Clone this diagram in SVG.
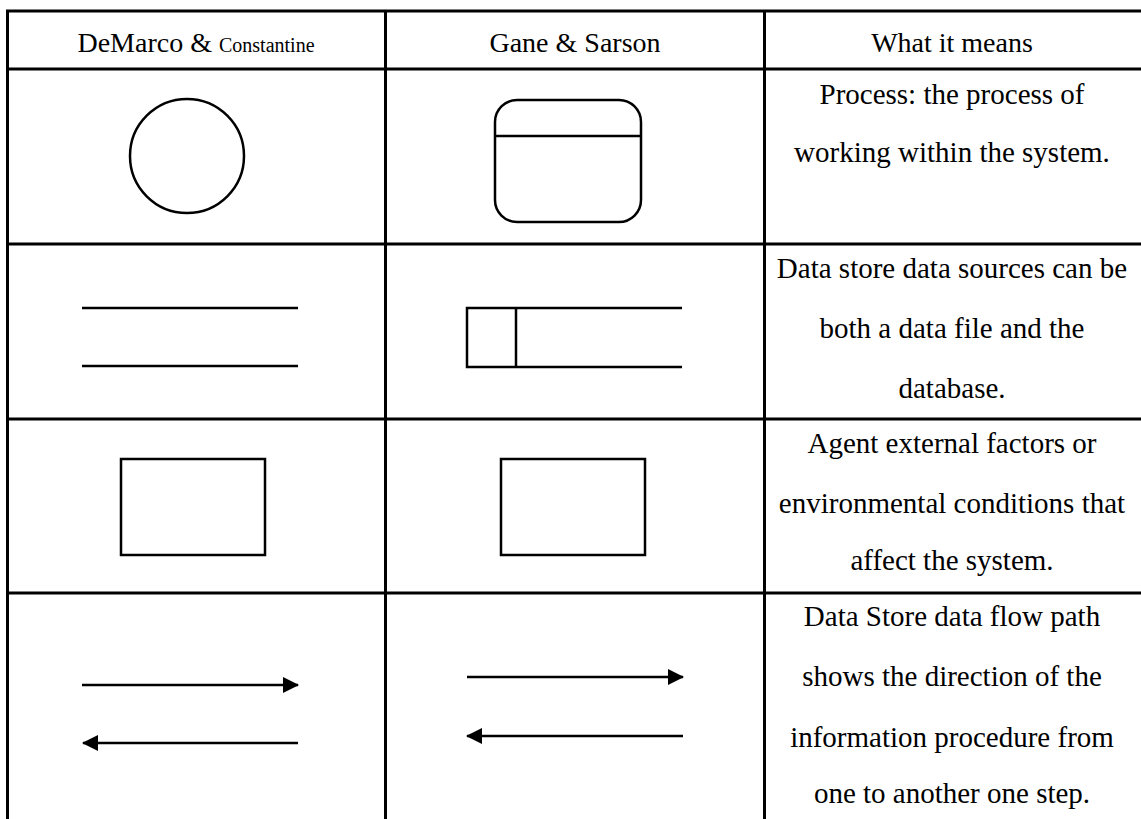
<svg xmlns="http://www.w3.org/2000/svg" width="1141" height="819" viewBox="0 0 1141 819">
  <style>
    .grid { stroke: #000; stroke-width: 3; fill: none; }
    .shape { stroke: #000; stroke-width: 2.5; fill: none; }
    .txt { font-family: "Liberation Serif", "Times New Roman", serif; font-size: 28px; fill: #000; text-anchor: middle; }
    .body { font-size: 29px; }
    .small { font-size: 20px; }
  </style>
  <defs>
    <marker id="head" viewBox="0 0 16 16" refX="15" refY="8" markerWidth="16" markerHeight="16" markerUnits="userSpaceOnUse" orient="auto">
      <path d="M0,0 L16,8 L0,16 Z" fill="#000"/>
    </marker>
  </defs>
  <rect width="1141" height="819" fill="#fff"/>

  <!-- table grid -->
  <g id="table-grid" class="grid">
    <line x1="6" y1="11" x2="1141" y2="11"/>
    <line x1="6" y1="69" x2="1141" y2="69"/>
    <line x1="6" y1="244" x2="1141" y2="244"/>
    <line x1="6" y1="419" x2="1141" y2="419"/>
    <line x1="6" y1="593" x2="1141" y2="593"/>
    <line x1="7.5" y1="10" x2="7.5" y2="819"/>
    <line x1="385.5" y1="10" x2="385.5" y2="819"/>
    <line x1="764.5" y1="10" x2="764.5" y2="819"/>
  </g>

  <!-- column headings -->
  <g id="headings">
    <text class="txt" x="196" y="52">DeMarco &amp; <tspan class="small">Constantine</tspan></text>
    <text class="txt" x="575" y="52">Gane &amp; Sarson</text>
    <text class="txt" x="952" y="52">What it means</text>
  </g>

  <!-- process row -->
  <g id="process-dm">
    <circle class="shape" cx="187" cy="156" r="57"/>
  </g>
  <g id="process-gs">
    <rect class="shape" x="495" y="100" width="146" height="122" rx="22" ry="22"/>
    <line class="shape" x1="495" y1="136" x2="641" y2="136"/>
  </g>
  <g id="process-desc">
    <text class="txt body" x="952" y="104">Process: the process of</text>
    <text class="txt body" x="952" y="162">working within the system.</text>
  </g>

  <!-- data store row -->
  <g id="store-dm" class="shape">
    <line x1="82" y1="308" x2="298" y2="308"/>
    <line x1="82" y1="366" x2="298" y2="366"/>
  </g>
  <g id="store-gs" class="shape">
    <path d="M682,308 H467 V367 H682"/>
    <line x1="516" y1="308" x2="516" y2="367"/>
  </g>
  <g id="store-desc">
    <text class="txt body" x="952" y="278">Data store data sources can be</text>
    <text class="txt body" x="952" y="338">both a data file and the</text>
    <text class="txt body" x="952" y="398">database.</text>
  </g>

  <!-- agent row -->
  <g id="agent-dm">
    <rect class="shape" x="121" y="459" width="144" height="96"/>
  </g>
  <g id="agent-gs">
    <rect class="shape" x="501" y="459" width="144" height="96"/>
  </g>
  <g id="agent-desc">
    <text class="txt body" x="952" y="453">Agent external factors or</text>
    <text class="txt body" x="952" y="513">environmental conditions that</text>
    <text class="txt body" x="952" y="570">affect the system.</text>
  </g>

  <!-- data flow row -->
  <g id="connectors" class="shape">
    <line x1="82" y1="685" x2="298" y2="685" marker-end="url(#head)"/>
    <line x1="298" y1="743" x2="83" y2="743" marker-end="url(#head)"/>
    <line x1="467" y1="677" x2="683" y2="677" marker-end="url(#head)"/>
    <line x1="683" y1="736" x2="467" y2="736" marker-end="url(#head)"/>
  </g>
  <g id="flow-desc">
    <text class="txt body" x="952" y="626">Data Store data flow path</text>
    <text class="txt body" x="952" y="686">shows the direction of the</text>
    <text class="txt body" x="952" y="747">information procedure from</text>
    <text class="txt body" x="952" y="803">one to another one step.</text>
  </g>
</svg>
